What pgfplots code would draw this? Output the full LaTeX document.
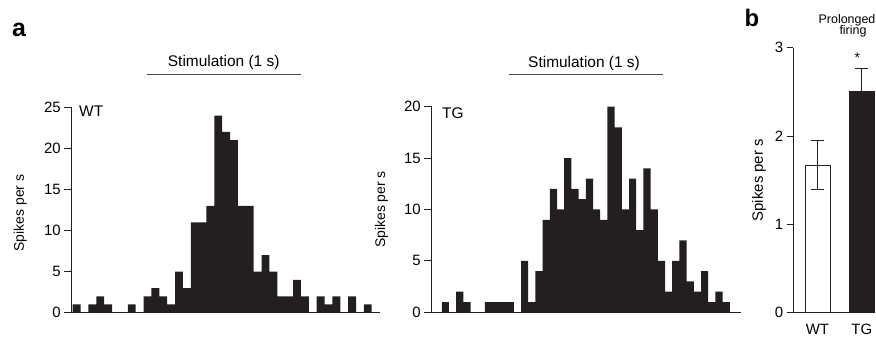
\documentclass[border=0pt]{standalone}
\usepackage{fontspec}
\setmainfont{Liberation Sans}
\usepackage{pgfplots}
\pgfplotsset{compat=1.18}
\definecolor{ink}{HTML}{231F20}
\definecolor{stim}{HTML}{4A4A4A}
\pgfplotsset{
  panel/.style={scale only axis, anchor=south west, axis lines=left,
    axis line style={-, ink, line width=0.9bp},
    every tick/.style={ink, line width=0.9bp},
    tick align=outside, major tick length=7.5bp,
    xtick=\empty, ymin=0, clip=false,
    tick label style={font=\fontsize{15}{15}\selectfont},
    /pgf/number format/assume math mode=true,
    label style={font=\fontsize{14}{14}\selectfont},
  },
  hist/.style={const plot, fill=ink, draw=none},
}
\begin{document}
\begin{tikzpicture}[x=1bp,y=1bp]
\useasboundingbox (0bp,0bp) rectangle (876bp,337bp);
% ---- WT histogram
\begin{axis}[panel, at={(71.7bp,24.3bp)}, width=308.3bp, height=205.4bp,
  xmin=-0.13, xmax=39.05, ymax=25, ytick={0,5,10,15,20,25},
  ylabel={Spikes per s}, ylabel style={at={(rel axis cs:-0.167,0.485)}, anchor=center}]
\addplot[hist] coordinates {
(0,1) (1,0) (2,1) (3,2) (4,1) (5,0) (6,0) (7,1) (8,0) (9,2)
(10,3) (11,2) (12,1) (13,5) (14,3) (15,11) (16,11) (17,13) (18,24) (19,22)
(20,21) (21,13) (22,13) (23,5) (24,7) (25,5) (26,2) (27,2) (28,4) (29,2)
(30,0) (31,2) (32,1) (33,2) (34,0) (35,2) (36,0) (37,1) (38,1)} \closedcycle;
\draw[stim, line width=1.5bp] (axis cs:9.4,28.97) -- (axis cs:29.0,28.97);
\node[anchor=base, font=\fontsize{15.5}{15.5}\selectfont, inner sep=0] at (axis cs:19.19,29.99) {Stimulation (1 s)};
\node[anchor=base west, font=\fontsize{15.5}{15.5}\selectfont, inner sep=0] at (axis cs:0.8,23.86) {WT};
\end{axis}
% ---- TG histogram
\begin{axis}[panel, at={(431.7bp,24.7bp)}, width=309.3bp, height=205.6bp,
  xmin=-0.4, xmax=42.55, ymax=20, ytick={0,5,10,15,20},
  ylabel={Spikes per s}, ylabel style={at={(rel axis cs:-0.162,0.5)}, anchor=center}]
\addplot[hist] coordinates {
(0,0) (1,1) (2,0) (3,2) (4,1) (5,0) (6,0) (7,1) (8,1) (9,1)
(10,1) (11,0) (12,5) (13,1) (14,4) (15,9) (16,12) (17,10) (18,15) (19,12)
(20,11) (21,13) (22,10) (23,9) (24,20) (25,18) (26,10) (27,13) (28,8) (29,14)
(30,10) (31,5) (32,2) (33,5) (34,7) (35,3) (36,2) (37,4) (38,1) (39,2)
(40,1) (41,1)} \closedcycle;
\draw[stim, line width=1.5bp] (axis cs:10.33,23.15) -- (axis cs:31.68,23.15);
\node[anchor=base, font=\fontsize{15.5}{15.5}\selectfont, inner sep=0] at (axis cs:20.75,23.83) {Stimulation (1 s)};
\node[anchor=base west, font=\fontsize{15.5}{15.5}\selectfont, inner sep=0] at (axis cs:1.03,18.87) {TG};
\end{axis}
% ---- panel b
\begin{axis}[panel, at={(793.3bp,24.3bp)}, width=81.7bp, height=265bp,
  xmin=-0.546, xmax=1.298, ymax=3, ytick={0,1,2,3},
  major tick length=6.7bp,
  xtick={0,1}, xticklabels={WT,TG}, x tick style={draw=none},
  xticklabel style={yshift=-1.5bp},
  ylabel={Spikes per s}, ylabel style={at={(rel axis cs:-0.42,0.5)}, anchor=center, font=\fontsize{15}{15}\selectfont}]
\addplot[ybar, bar width=0.564, bar shift=0pt, fill=white, draw=ink, line width=0.9bp,
  error bars/.cd, y dir=both, y explicit,
  error bar style={ink, line width=0.9bp},
  error mark options={rotate=90, mark size=6.5bp, ink, line width=0.9bp}]
  coordinates {(0,1.67) +- (0,0.28)};
\addplot[ybar, bar width=0.564, bar shift=0pt, fill=ink, draw=ink, line width=0.9bp,
  error bars/.cd, y dir=plus, y explicit,
  error bar style={ink, line width=0.9bp},
  error mark options={rotate=90, mark size=6.5bp, ink, line width=0.9bp}]
  coordinates {(1,2.5) +- (0,0.27)};
\node[anchor=base, font=\fontsize{14}{14}\selectfont, inner sep=0] at (axis cs:0.9,2.83) {*};
\end{axis}
% ---- titles and panel letters
\node[anchor=base west, font=\fontsize{25}{25}\selectfont\bfseries, inner sep=0] at (12bp,300.3bp) {a};
\node[anchor=base west, font=\fontsize{24}{24}\selectfont\bfseries, inner sep=0] at (744.5bp,310.3bp) {b};
\node[anchor=base, font=\fontsize{12.5}{12.5}\selectfont, inner sep=0] at (847bp,313bp) {Prolonged};
\node[anchor=base, font=\fontsize{12.5}{12.5}\selectfont, inner sep=0] at (853bp,302bp) {firing};
\end{tikzpicture}
\end{document}
